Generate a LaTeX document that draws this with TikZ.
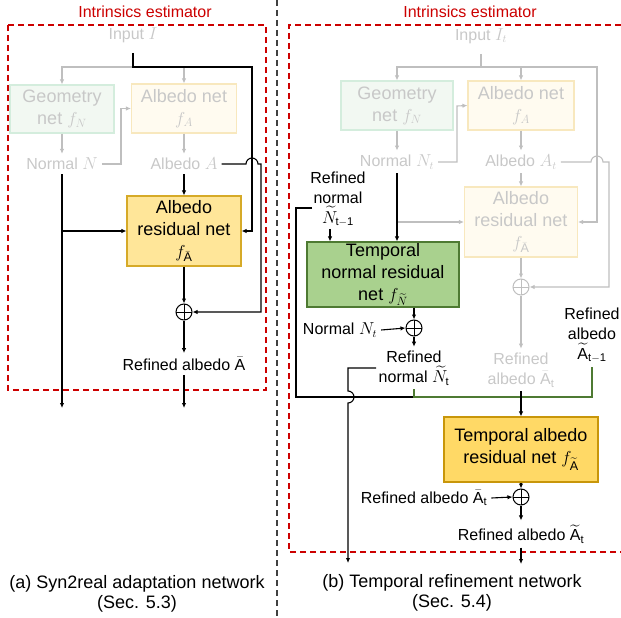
\documentclass[tikz,border=0pt]{standalone}
\usepackage{fontspec}
\setmainfont{Liberation Sans}
\usepackage{amsmath}
\usetikzlibrary{arrows.meta,calc}

\definecolor{gtx}{RGB}{200,200,200}
\definecolor{gln}{RGB}{191,191,191}
\definecolor{geofill}{RGB}{242,248,242}
\definecolor{geoline}{RGB}{212,237,221}
\definecolor{albfill}{RGB}{255,251,240}
\definecolor{albline}{RGB}{248,232,190}
\definecolor{resfill}{RGB}{255,230,153}
\definecolor{resline}{RGB}{214,170,40}
\definecolor{tafill}{RGB}{255,217,102}
\definecolor{taline}{RGB}{200,150,10}
\definecolor{tnfill}{RGB}{169,209,142}
\definecolor{tnline}{RGB}{78,122,50}
\definecolor{estred}{RGB}{204,0,0}
\definecolor{divgray}{RGB}{64,64,64}

\newcommand{\boxfont}{\fontsize{18}{22}\selectfont}
\newcommand{\lblfont}{\fontsize{16}{20}\selectfont}
\newcommand{\capfont}{\fontsize{18}{20}\selectfont}

\tikzset{
  bline/.style={line width=1.1pt, black},
  gline/.style={line width=1.1pt, gln},
  gnline/.style={line width=1.1pt, tnline},
  arr/.style={-{Latex[length=5pt,width=4.5pt]}},
  netbox/.style={draw, line width=1.1pt, align=center, inner sep=0pt, font=\boxfont},
  lbl/.style={align=center, inner sep=4pt, font=\lblfont},
  gl/.style={text=gtx},
  oplus/.style={circle, draw=#1, line width=1pt, minimum size=16pt, inner sep=0pt,
    path picture={\draw[#1, line width=1pt]
      (path picture bounding box.north) -- (path picture bounding box.south)
      (path picture bounding box.west) -- (path picture bounding box.east);}},
  reddash/.style={draw=estred, line width=1.2pt, dash pattern=on 6pt off 4pt},
  divdash/.style={draw=divgray, line width=1.2pt, dash pattern=on 6pt off 4pt},
  esttitle/.style={text=estred, font=\lblfont, inner sep=0pt},
  capt/.style={align=center, font=\capfont, inner sep=0pt}
}

\begin{document}
\begin{tikzpicture}[x=1pt,y=-1pt]
\useasboundingbox (0,0) rectangle (621,618);

% ---------- frames ----------
\draw[divdash] (277,0) -- (277,618);
\node[esttitle] (ttlA) at (145,12) {Intrinsics estimator};
\draw[reddash] (8,25) rectangle (266,390);
\node[esttitle] (ttlB) at (470,12) {Intrinsics estimator};
\draw[reddash] (621,25) -- (289,25) -- (289,552) -- (621,552);

% ================= (a) Syn2real adaptation network =================
\node[lbl,gl] (inA) at (133,35) {Input $I$};
\node[netbox, fill=geofill, draw=geoline, text=gtx, minimum width=104pt, minimum height=48pt]
  (geoA) at (62,109) {Geometry\\net $f_N$};
\node[netbox, fill=albfill, draw=albline, text=gtx, minimum width=105pt, minimum height=49pt]
  (albA) at (184,108.5) {Albedo net\\$f_A$};
\node[lbl,gl] (normA) at (62,164) {Normal $N$};
\node[lbl,gl] (albdA) at (184,164) {Albedo $A$};
\node[netbox, fill=resfill, draw=resline, minimum width=114pt, minimum height=70pt]
  (resA) at (184,231) {Albedo\\residual net\\$f_{\bar{\mathrm{A}}}$};
\node[oplus=black] (plusA) at (184,312) {};
\node[lbl] (refA) at (184,364) {Refined albedo $\bar{\mathrm{A}}$};

\coordinate (jA) at (133,67);
\coordinate (cA) at (252,67);
\coordinate (kA) at (121,108.5);
\coordinate (dA) at (62,408);
\coordinate (eA) at (184,408);

% faded part of the estimator
\draw[gline,arr] (jA) -| (geoA.north);
\draw[gline,arr] (jA) -| (albA.north);
\draw[gline,arr] (geoA.south) -- (normA.north);
\draw[gline,arr] (albA.south) -- (albdA.north);
\draw[gline,arr] (normA.east) -| (kA) -- (albA.west);

% active paths
\draw[bline,arr,shorten <=6pt] (inA.south) |- (cA) |- (resA.east);
\draw[bline,arr] (albdA.east) -- (246,164) arc[start angle=180,end angle=0,radius=6pt]
  -- (261,164) |- (plusA.east);
\draw[bline,arr] (albdA.south) -- (resA.north);
\draw[bline,arr] (normA.south) -- (dA);
\draw[bline,arr] (resA.west -| normA.south) -- (resA.west);
\draw[bline,arr] (resA.south) -- (plusA.north);
\draw[bline,arr] (plusA.south) -- (refA.north);
\draw[bline,arr] (refA.south) -- (eA);

\node[capt] (capA) at (137,594) {(a) Syn2real adaptation network\\(Sec. 5.3)};

% ================= (b) Temporal refinement network =================
\node[lbl,gl] (inB) at (481,36) {Input $I_t$};
\node[netbox, fill=geofill, draw=geoline, text=gtx, minimum width=112pt, minimum height=49pt]
  (geoB) at (397,105.5) {Geometry\\net $f_N$};
\node[netbox, fill=albfill, draw=albline, text=gtx, minimum width=106pt, minimum height=49pt]
  (albB) at (521,105.5) {Albedo net\\$f_A$};
\node[lbl,gl] (normB) at (397,162) {Normal $N_t$};
\node[lbl,gl] (albdB) at (521,162) {Albedo $A_t$};
\node[netbox, fill=albfill, draw=albline, text=gtx, minimum width=113pt, minimum height=70pt]
  (resB) at (521,222) {Albedo\\residual net\\$f_{\bar{\mathrm{A}}}$};
\node[oplus=gln] (plusB) at (521,287) {};
\node[lbl,gl] (refB) at (521,370) {Refined\\albedo $\bar{\mathrm{A}}_{\mathrm{t}}$};

\node[lbl] (refNprev) at (338,199) {Refined\\normal\\$\widetilde{N}_{\mathrm{t-1}}$};
\node[netbox, fill=tnfill, draw=tnline, minimum width=152pt, minimum height=65pt]
  (tn) at (383,274.5) {Temporal\\normal residual\\net $f_{\widetilde{N}}$};
\node[oplus=black] (plusN) at (414,328) {};
\node[lbl] (normB2) at (340,330) {Normal $N_t$};
\node[lbl] (refN) at (414,368) {Refined\\normal $\widetilde{N}_{\mathrm{t}}$};
\node[lbl] (refAprev) at (592,335) {Refined\\albedo\\$\widetilde{\mathrm{A}}_{\mathrm{t-1}}$};

\node[netbox, fill=tafill, draw=taline, minimum width=154pt, minimum height=65pt]
  (ta) at (521,449.5) {Temporal albedo\\residual net $f_{\widetilde{\mathrm{A}}}$};
\node[oplus=black] (plusT) at (521,497) {};
\node[lbl] (refA2) at (424,498) {Refined albedo $\bar{\mathrm{A}}_{\mathrm{t}}$};
\node[lbl] (refAt) at (521,534) {Refined albedo $\widetilde{\mathrm{A}}_{\mathrm{t}}$};

\coordinate (jB) at (481,67);
\coordinate (cB) at (597,67);
\coordinate (kB) at (457,106);
\coordinate (pN) at (330,229);
\coordinate (nPrev) at (312,208);
\coordinate (bL) at (296,397);
\coordinate (busN) at (414,397);
\coordinate (busR) at (592,397);
\coordinate (nOut) at (376,368);
\coordinate (dB) at (348,563);
\coordinate (eB) at (521,564);

% faded part of the estimator
\draw[gline,arr,shorten <=6pt] (inB.south) -- (jB) -| (geoB.north);
\draw[gline,arr] (jB) -| (albB.north);
\draw[gline,arr] (jB) -- (cB) |- (resB.east);
\draw[gline,arr] (geoB.south) -- (normB.north);
\draw[gline,arr] (albB.south) -- (albdB.north);
\draw[gline,arr] (normB.east) -| (kB) -- (albB.west);
\draw[gline,arr] (albdB.south) -- (resB.north);
\draw[gline,arr] (albdB.east) -- (591,162) arc[start angle=180,end angle=0,radius=6pt]
  -- (609,162) |- (plusB.east);
\draw[gline,arr] (resB.west -| normB.south) -- (resB.west);
\draw[gline,arr] (resB.south) -- (plusB.north);
\draw[gline,arr] (plusB.south) -- (refB.north);

% temporal refinement paths
\draw[bline,arr] (normB.south) -- (normB.south |- tn.north);
\draw[bline,arr] (pN) -- (pN |- tn.north);
\draw[bline,arr] (plusN.north |- tn.south) -- (plusN.north);
\draw[bline,arr] (normB2.east) -- (plusN.west);
\draw[bline,arr] (plusN.south) -- (refN.north);
\draw[bline] (nPrev) -| (bL) -- (busN);
\draw[gnline] (refN.south) -- (busN) -- (busR) -- (refAprev.south);
\draw[bline,arr] (refB.south) -- (ta.north);
\draw[bline,arr] (nOut) -| (348,391) arc[start angle=90,end angle=-90,radius=6pt] -- (dB);
\draw[bline,arr] (ta.south) -- (plusT.north);
\draw[bline,arr] (refA2.east) -- (plusT.west);
\draw[bline,arr] (plusT.south) -- (refAt.north);
\draw[bline,arr] (refAt.south) -- (eB);

\node[capt] (capB) at (452,593) {(b) Temporal refinement network\\(Sec. 5.4)};
\end{tikzpicture}
\end{document}
